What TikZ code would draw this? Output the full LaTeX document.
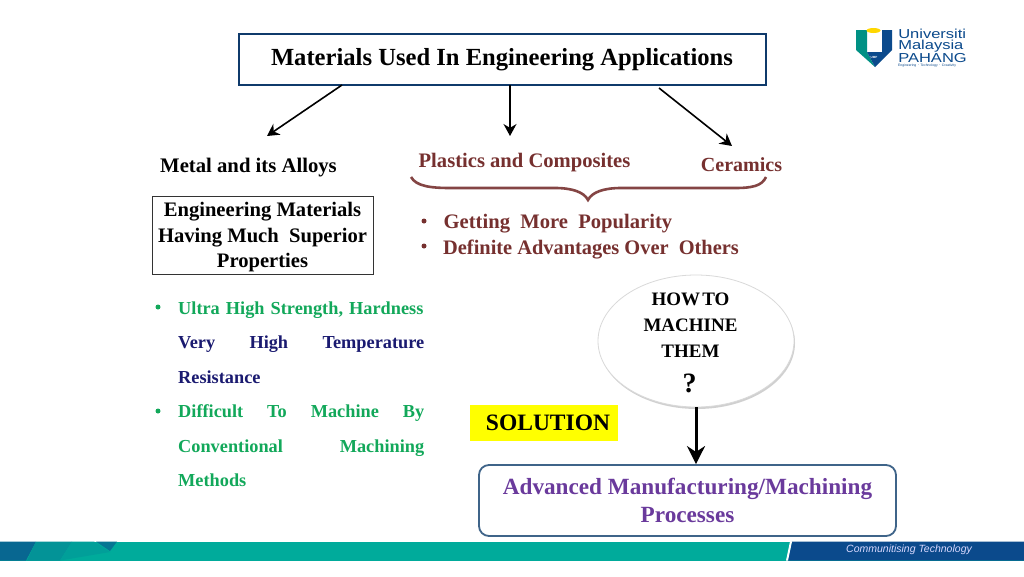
\documentclass[tikz,border=0pt]{standalone}
\usepackage{fontspec}
\setmainfont{Liberation Serif}
\newfontfamily\logofont{Liberation Sans}
\usepackage[svgnames]{xcolor}
\usetikzlibrary{
  arrows.meta,
  shadows,
  shapes.geometric}
\definecolor{boxblue}{HTML}{0F3A6B}
\definecolor{roundblue}{HTML}{3F6489}
\definecolor{maroon}{HTML}{76302F}
\definecolor{leafgreen}{HTML}{12A85A}
\definecolor{navytext}{HTML}{1A1A70}
\definecolor{purpletext}{HTML}{6A3A9C}
\definecolor{teal}{HTML}{00AB9B}
\definecolor{bandblue}{HTML}{0B4A8C}
\tikzset{
  heading/.style={font=\bfseries\fontsize{20.6}{22}\selectfont, text=maroon, inner sep=0pt},
  boxtext/.style={font=\bfseries\fontsize{20.6}{25.5}\selectfont, align=center, inner sep=0pt},
  greenline/.style={font=\bfseries\fontsize{18.3}{20}\selectfont, text=leafgreen, inner sep=0pt,
    anchor=base west, text width=246pt},
  dotmark/.style={circle, inner sep=0pt, minimum size=5pt},
  pointer/.style={-{Stealth[length=12pt,width=13pt]}, line width=1.6pt},
}
\begin{document}
\begin{tikzpicture}[x=1pt,y=-1pt]
\useasboundingbox (0,0) rectangle (1024,576);
\fill[white] (0,0) rectangle (1024,576);
% bottom band
\fill[teal] (0,541.5) rectangle (1024,560.5);
\fill[bandblue] (792,541.5) -- (1024,541.5) -- (1024,560.5) -- (788,560.5) -- cycle;
\fill[white] (790,541.5) -- (792,541.5) -- (788,560.5) -- (786,560.5) -- cycle;
\fill[teal!30!bandblue] (0,541.5) -- (36,541.5) -- (26,560.5) -- (0,560.5) -- cycle;
\fill[teal!75!bandblue] (36,541.5) -- (72,541.5) -- (60,560.5) -- (27,560.5) -- cycle;
\fill[teal!88!bandblue] (72,541.5) -- (94,541.5) -- (110,552) -- (60,560.5) -- cycle;
\fill[teal!45!bandblue] (96,541.5) -- (117,541.5) -- (110,551) -- cycle;
\node[font=\logofont\itshape\fontsize{10.5}{12}\selectfont, text=white!85!blue, inner sep=0pt] (slogan) at (909,550) {Communitising Technology};
% logo
\fill[teal!85!black] (856,30) -- (867,30) -- (867,52) -- (875,67) -- (856,50) -- cycle;
\fill[bandblue] (882,30) -- (892,30) -- (892,50) -- (875,67) -- (867,52) -- (882,52) -- cycle;
\fill[Gold] (873.5,30.5) ellipse (7 and 2.5);
\node[font=\logofont\bfseries\fontsize{3}{3}\selectfont, text=white, inner sep=0pt] (ump) at (874,57) {UMP};
\node[font=\logofont\fontsize{13}{11.5}\selectfont, text=bandblue, anchor=west, align=left, inner sep=0pt, xscale=1.27] (uni) at (898,45.5) {Universiti\\Malaysia\\PAHANG};
\node[font=\logofont\fontsize{3.4}{4}\selectfont, text=bandblue, anchor=west, inner sep=0pt] (motto) at (898,66) {Engineering $\cdot$ Technology $\cdot$ Creativity};
% title box
\node[draw=boxblue, line width=2pt, minimum width=527pt, minimum height=51pt, inner sep=0pt,
  font=\bfseries\fontsize{24.6}{26}\selectfont] (title) at (502,59.5) {Materials Used In Engineering Applications};
\coordinate (metalend) at (267,136);
\coordinate (plasticend) at (510,136);
\coordinate (ceramicend) at (732,146);
\draw[pointer] (342,85) -- (metalend);
\draw[pointer] (510,85) -- (plasticend);
\draw[pointer] (659,88) -- (ceramicend);
% classes
\node[font=\bfseries\fontsize{20.7}{22}\selectfont, inner sep=0pt] (metal) at (248.5,167.5) {Metal and its Alloys};
\node[heading] (plastic) at (524.5,163) {Plastics and Composites};
\node[heading, font=\bfseries\fontsize{20}{22}\selectfont] (ceramic) at (741.5,165) {Ceramics};
\draw[maroon!90!white, line width=2.6pt]
  (411,177) .. controls (416,186) and (430,188) .. (450,188)
  -- (555,188) .. controls (572,188) and (584,192) .. (588,200)
  .. controls (592,192) and (604,188) .. (621,188)
  -- (735,188) .. controls (752,188) and (762,186) .. (766,177);
\node[dotmark, fill=maroon] (dota) at (424,221) {};
\node[dotmark, fill=maroon] (dotb) at (424,246) {};
\node[heading, anchor=west] (popular) at (443.5,224) {Getting~ More~ Popularity};
\node[heading, anchor=west, xscale=0.99] (advantage) at (443,250) {Definite Advantages Over~ Others};
% engineering box
\node[draw=black!80, line width=1pt, minimum width=221pt, minimum height=78pt] (engbox) at (262.5,235) {};
\node[boxtext] (engtext) at (262.5,237.5)
  {Engineering Materials\\Having Much~ Superior\\Properties};
% green list
\node[dotmark, fill=leafgreen] (dotc) at (158,307) {};
\node[greenline] (lineone) at (178,314) {Ultra High Strength, Hardness};
\node[greenline, text=navytext] (linetwo) at (178,348.5) {Very\hfill High\hfill Temperature};
\node[greenline, text=navytext] (linethree) at (178,383) {Resistance};
\node[dotmark, fill=leafgreen] (dotd) at (158,411) {};
\node[greenline] (linefour) at (178,417.5) {Difficult\hfill To\hfill Machine\hfill By};
\node[greenline] (linefive) at (178,452) {Conventional\hfill Machining};
\node[greenline] (linesix) at (178,486.5) {Methods};
% question bubble
\node[ellipse, draw=black!15, fill=white, line width=0.8pt, minimum width=196pt, minimum height=132pt,
  drop shadow={shadow xshift=1pt, shadow yshift=-2pt, opacity=0.3, fill=black!60}] (bubble) at (696,341) {};
\node[font=\bfseries\fontsize{19}{26}\selectfont, align=center, inner sep=0pt] (howto) at (690.5,325)
  {HOW\kern-2.5pt\ TO\\MACHINE\\THEM};
\node[font=\bfseries\fontsize{28}{30}\selectfont, inner sep=0pt] (qmark) at (689.5,383) {?};
% solution
\node[fill=Yellow, minimum width=148pt, minimum height=36pt, inner sep=0pt,
  font=\bfseries\fontsize{23.5}{25}\selectfont] (solution) at (544,423) {\kern8pt SOLUTION};
\node[draw=roundblue, rounded corners=10pt, line width=1.8pt, minimum width=417pt, minimum height=71pt,
  align=center, inner sep=0pt, text=purpletext, font=\bfseries\fontsize{23.2}{28.5}\selectfont] (process) at (687.5,500.5)
  {Advanced Manufacturing/Machining\\Processes};
\draw[-{Stealth[length=18pt,width=18pt]}, line width=3pt] (bubble.south) -- (bubble.south |- process.north);
\end{tikzpicture}
\end{document}
